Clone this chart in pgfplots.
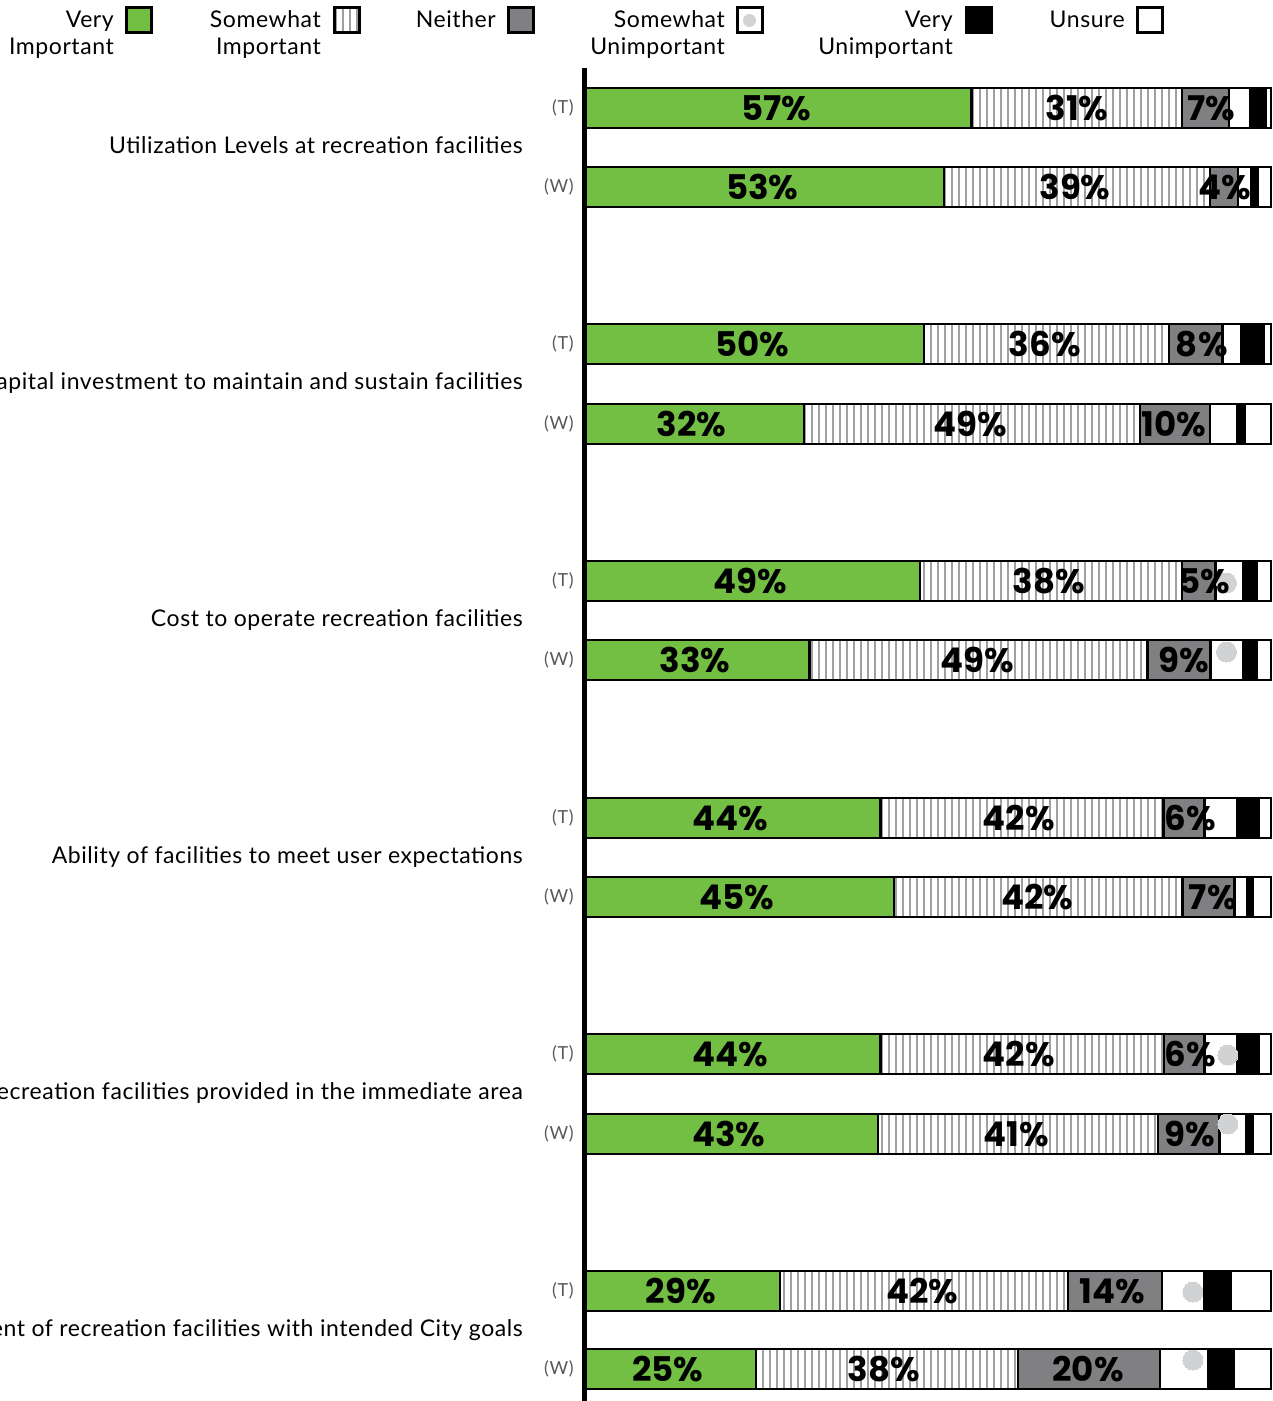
\documentclass[border=0pt]{standalone}
\usepackage{pgfplots}
\usepackage{pgfplotstable}
\pgfplotsset{compat=1.18}
\usetikzlibrary{patterns.meta}
\usepackage{fontspec}
\setmainfont{Lato}[LetterSpace=2.5]
\newfontfamily\numfont{Poppins}
\newfontfamily\twfont{Lato}[LetterSpace=4]
\definecolor{vgreen}{HTML}{72BF44}
\definecolor{neith}{HTML}{808083}
\definecolor{hatchgray}{HTML}{A0A0A0}
\definecolor{dotgray}{HTML}{D1D2D4}

\pgfplotstableread{
y    vi   si   ne   su  vu  un
108  56.3 30.7 6.9  3.1 2.3 0.7
187  52.3 38.8 4.1  1.9 1.0 1.9
344  49.4 35.7 7.8  2.7 3.4 1.0
424  31.9 49.0 10.2 3.9 1.1 3.9
581  48.8 38.2 4.9  4.1 1.9 2.1
660  32.7 49.3 9.2  4.8 1.9 2.1
818  43.0 41.3 6.0  4.7 3.2 1.8
897  45.0 42.1 7.6  1.8 0.8 2.7
1054 43.0 41.4 5.9  4.7 3.2 1.8
1134 42.7 40.8 9.0  3.9 0.9 2.7
1291 28.4 42.0 13.7 6.1 3.9 5.9
1369 24.9 38.2 20.7 7.1 3.7 5.4
}\bars

\pgfplotstableread{
x    y    lab
27.8 108  57
71.7 108  31
91.3 108  7
25.8 187  53
71.4 187  39
93.3 187  4
24.3 344  50
67.0 344  36
89.9 344  8
15.5 424  32
56.1 424  49
85.8 424  10
24.0 581  49
67.6 581  38
90.3 581  5
16.0 660  33
57.1 660  49
87.3 660  9
21.1 818  44
63.2 818  42
88.2 818  6
22.1 897  45
65.9 897  42
91.5 897  7
21.1 1054 44
63.2 1054 42
88.2 1054 6
20.9 1134 43
62.8 1134 41
88.2 1134 9
13.9 1291 29
49.1 1291 42
76.8 1291 14
12.0 1369 25
43.5 1369 38
73.3 1369 20
}\labs

\begin{document}
\begin{tikzpicture}
\pgfplotsset{base/.style={at={(0pt,0pt)}, anchor=south west, scale only axis,
  width=1273pt, height=1401pt, xmin=-85.41, xmax=100.29, ymin=0, ymax=1401,
  y dir=reverse, hide axis, clip=false}}
\begin{axis}[base, xbar stacked, bar width=40]
\addplot[fill=vgreen, draw=black, line width=2.5pt] table[x=vi,y=y]{\bars};
\addplot[draw=black, line width=2.5pt, pattern={Lines[angle=90,distance=7pt,line width=1.3pt]}, pattern color=hatchgray] table[x=si,y=y]{\bars};
\addplot[fill=neith, draw=black, line width=2.5pt] table[x=ne,y=y]{\bars};
\addplot[fill=white, draw=black, line width=2.5pt] table[x=su,y=y]{\bars};
\addplot[fill=black, draw=black, line width=2.5pt] table[x=vu,y=y]{\bars};
\addplot[fill=white, draw=black, line width=2.5pt] table[x=un,y=y]{\bars};
\end{axis}
\begin{axis}[base]
\addplot[only marks, color=dotgray, mark=*, mark size=10pt, mark options={fill=dotgray, draw=dotgray, line width=0pt}] coordinates {
(93.5,583) (93.5,652) (93.7,1055) (93.7,1124) (88.6,1292) (88.6,1360)};
\addplot[only marks, mark=none, point meta=explicit symbolic,
  nodes near coords={\pgfplotspointmeta\%}, nodes near coords align={center},
  every node near coord/.append style={font=\numfont\bfseries\fontsize{34}{34}\selectfont, text=black, inner sep=0pt, anchor=center}]
  table[x=x,y=y,meta=lab]{\labs};
\end{axis}

\begin{scope}[x=1pt,y=-1pt,shift={(0pt,1401pt)}]
\draw[line width=5pt] (584.5,68) -- (584.5,1401);
\tikzset{lab/.style={anchor=base east, inner sep=0pt, font=\fontsize{23}{27}\selectfont},
  tw/.style={anchor=east, inner sep=0pt, text=black!65, font=\twfont\fontsize{18}{20}\selectfont},
  lb/.style={line width=3pt}}
\node[lab] at (523,154) {Utilization Levels at recreation facilities};
\node[lab] at (523,390) {Capital investment to maintain and sustain facilities};
\node[lab] at (523,627) {Cost to operate recreation facilities};
\node[lab] at (523,864) {Ability of facilities to meet user expectations};
\node[lab] at (523,1100) {Types of recreation facilities provided in the immediate area};
\node[lab] at (523,1337) {Alignment of recreation facilities with intended City goals};
\foreach \t/\w in {108/187, 344/424, 581/660, 818/897, 1054/1134, 1291/1369}{
  \node[tw] at (574,\t) {(T)};
  \node[tw] at (574,\w) {(W)};
}
% legend
\node[lab] at (114,28) {Very};
\node[lab] at (114,55) {Important};
\draw[lb, fill=vgreen] (126,8) rectangle (151,33);
\node[lab] at (321,28) {Somewhat};
\node[lab] at (321,55) {Important};
\draw[lb, pattern={Lines[angle=90,distance=7pt,line width=1.3pt]}, pattern color=hatchgray] (334,8) rectangle (359,33);
\node[lab] at (496,28) {Neither};
\draw[lb, fill=neith] (508,8) rectangle (533,33);
\node[lab] at (725,28) {Somewhat};
\node[lab] at (725,55) {Unimportant};
\draw[lb, fill=white] (737,8) rectangle (762,33);
\fill[dotgray] (749.5,20.5) circle (6.5pt);
\node[lab] at (953,28) {Very};
\node[lab] at (953,55) {Unimportant};
\draw[lb, fill=black] (966,8) rectangle (991,33);
\node[lab] at (1125,28) {Unsure};
\draw[lb, fill=white] (1137,8) rectangle (1162,33);
\end{scope}
\pgfresetboundingbox
\path[use as bounding box] (0pt,0pt) rectangle (1273pt,1401pt);
\end{tikzpicture}
\end{document}
